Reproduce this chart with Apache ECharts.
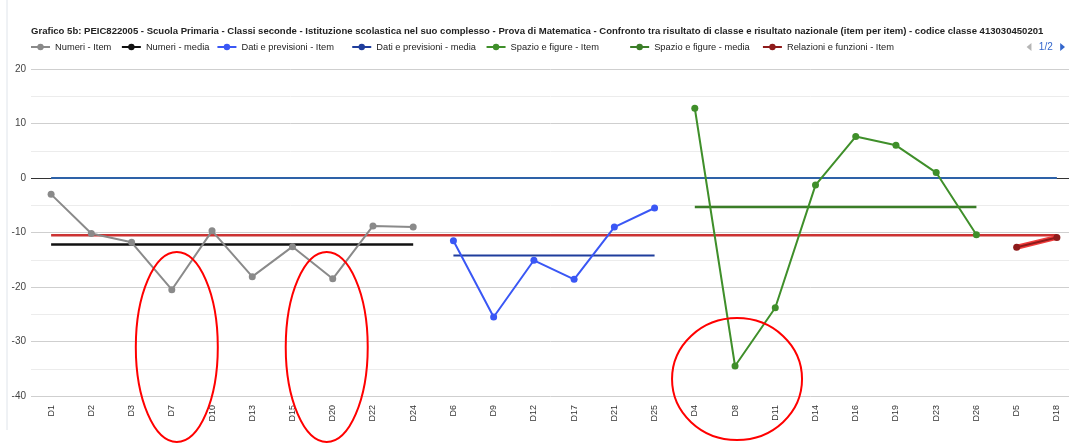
<!DOCTYPE html>
<html>
<head>
<meta charset="utf-8">
<title>Grafico 5b</title>
<script src="https://cdn.jsdelivr.net/npm/echarts@6/dist/echarts.min.js"></script>
<style>
  html, body { margin: 0; padding: 0; background: #fff; }
  #chart { width: 1069px; height: 445px; }
</style>
</head>
<body>
<div id="chart"></div>
<script>
// item categories, grouped by ambito
const numeriCats = ['D1', 'D2', 'D3', 'D7', 'D10', 'D13', 'D15', 'D20', 'D22', 'D24'];
const datiCats = ['D6', 'D9', 'D12', 'D17', 'D21', 'D25'];
const spazioCats = ['D4', 'D8', 'D11', 'D14', 'D16', 'D19', 'D23', 'D26'];
const relazioniCats = ['D5', 'D18'];
const categories = numeriCats.concat(datiCats, spazioCats, relazioniCats);

// differenza classe - Italia, item per item
const numeriItem = [-3.0, -10.2, -11.8, -20.5, -9.7, -18.1, -12.6, -18.5, -8.8, -9.0];
const datiItem = [-11.5, -25.5, -15.1, -18.6, -9.0, -5.5];
const spazioItem = [12.8, -34.5, -23.8, -1.3, 7.6, 6.0, 1.0, -10.4];
const relazioniItem = [-12.7, -10.9];

// medie
const numeriMedia = -12.2;
const datiMedia = -14.2;
const spazioMedia = -5.3;
const relazioniMedia = -11.8;
const classeMedia = -10.5;
const italia = 0;

const yTicks = [-40, -30, -20, -10, 0, 10, 20];

const FONT = 'Liberation Sans, Arial, sans-serif';

function pairs(cats, vals) {
  return cats.map((c, i) => [c, vals[i]]);
}
function flat(cats, v) {
  return [[cats[0], v], [cats[cats.length - 1], v]];
}

function itemSeries(name, cats, vals, color) {
  return {
    name: name,
    type: 'line',
    data: pairs(cats, vals),
    symbol: 'circle',
    symbolSize: 7,
    itemStyle: { color: color },
    lineStyle: { color: color, width: 2 },
    emphasis: { disabled: true },
    z: 4
  };
}
function mediaSeries(name, cats, v, color, width) {
  return {
    name: name,
    type: 'line',
    data: flat(cats, v),
    showSymbol: false,
    symbol: 'none',
    itemStyle: { color: color },
    lineStyle: { color: color, width: width || 2 },
    emphasis: { disabled: true },
    z: 3
  };
}

let myCharts = echarts.init(document.getElementById('chart'));

let zeroLine = mediaSeries('Risultato nazionale', categories, italia, '#2e62a8', 2);
let classeLine = mediaSeries('Risultato di classe - media', categories, classeMedia, '#cc3333', 2.5);
let numeriMediaS = mediaSeries('Numeri - media', numeriCats, numeriMedia, '#111111', 2.5);
numeriMediaS.z = 2;
numeriMediaS.markLine = {
  silent: true,
  z: 1,
  symbol: 'none',
  label: { show: false },
  lineStyle: { color: '#333', width: 1, type: 'solid' },
  data: [{ yAxis: italia }]
};
let relazioniHalo = {
  type: 'line',
  data: pairs(relazioniCats, relazioniItem),
  symbol: 'none',
  lineStyle: { color: '#f23b3b', width: 5 },
  emphasis: { disabled: true },
  z: 3
};

// legend entries (page 1 shows the first seven)
const legendNames = [
  'Numeri - Item', 'Numeri - media',
  'Dati e previsioni - Item', 'Dati e previsioni - media',
  'Spazio e figure - Item', 'Spazio e figure - media',
  'Relazioni e funzioni - Item', 'Relazioni e funzioni - media',
  'Risultato nazionale', 'Risultato di classe - media'
];
// trailing blanks after each label, to space the entries like the original
const legendPad = [1, 0, 4, 1, 9, 2, 6, 0, 0, 0];

let option = {
  animation: false,
  textStyle: { fontFamily: FONT },
  title: {
    text: 'Grafico 5b: PEIC822005 - Scuola Primaria - Classi seconde - Istituzione scolastica nel suo complesso - Prova di Matematica - Confronto tra risultato di classe e risultato nazionale (item per item) - codice classe 413030450201',
    left: 31,
    top: 26,
    padding: 0,
    textStyle: { fontSize: 9.55, fontWeight: 'bold', color: '#222', fontFamily: FONT }
  },
  legend: {
    type: 'scroll',
    left: 30,
    width: 1035,
    top: 42,
    padding: 0,
    itemWidth: 19,
    itemHeight: 8,
    itemGap: 7,
    textStyle: { fontSize: 9.3, color: '#222', fontFamily: FONT },
    formatter: function (name) {
      return name + '\u00a0'.repeat(legendPad[legendNames.indexOf(name)]);
    },
    pageIconSize: 8,
    pageIconColor: '#3366cc',
    pageIconInactiveColor: '#b5b5b5',
    pageButtonItemGap: 3,
    pageButtonGap: 128,
    pageTextStyle: { color: '#3366cc', fontSize: 10, fontFamily: FONT },
    data: legendNames
  },
  grid: {
    outerBoundsMode: 'none',
    left: 31,
    right: -8,
    top: 69,
    bottom: 49
  },
  xAxis: {
    type: 'category',
    data: categories,
    boundaryGap: true,
    axisLine: { show: false },
    axisTick: { show: false },
    splitLine: { show: false },
    axisLabel: {
      rotate: 90,
      interval: 0,
      margin: 9,
      fontSize: 9,
      color: '#333',
      fontFamily: FONT
    }
  },
  yAxis: {
    type: 'value',
    min: yTicks[0],
    max: yTicks[yTicks.length - 1],
    interval: 10,
    axisLine: { show: false },
    axisTick: { show: false },
    axisLabel: { margin: 5, fontSize: 10, color: '#444', fontFamily: FONT },
    splitLine: { lineStyle: { color: '#cfcfcf', width: 1 } },
    minorTick: { show: false, splitNumber: 2 },
    minorSplitLine: { show: true, lineStyle: { color: '#ececec', width: 1 } }
  },
  series: [
    numeriMediaS,
    zeroLine,
    classeLine,
    itemSeries('Numeri - Item', numeriCats, numeriItem, '#8a8a8a'),
    mediaSeries('Dati e previsioni - media', datiCats, datiMedia, '#1f3d9c', 2),
    itemSeries('Dati e previsioni - Item', datiCats, datiItem, '#3a57f5'),
    mediaSeries('Spazio e figure - media', spazioCats, spazioMedia, '#3a7d27', 2.5),
    itemSeries('Spazio e figure - Item', spazioCats, spazioItem, '#3f8f2a'),
    mediaSeries('Relazioni e funzioni - media', relazioniCats, relazioniMedia, '#e53935', 0.01),
    relazioniHalo,
    itemSeries('Relazioni e funzioni - Item', relazioniCats, relazioniItem, '#8e1b1b')
  ]
};
myCharts.setOption(option);

// hand-drawn red rings, anchored on the item they point at
function ring(cat, v, dx, rx, ry) {
  let p = myCharts.convertToPixel({ gridIndex: 0 }, [cat, v]);
  return {
    type: 'ellipse',
    z: 100,
    silent: true,
    shape: { cx: p[0] + dx, cy: p[1], rx: rx, ry: ry },
    style: { fill: 'none', stroke: '#ff0000', lineWidth: 2 }
  };
}
myCharts.setOption({
  graphic: [
    {
      type: 'line',
      silent: true,
      shape: { x1: 7, y1: 0, x2: 7, y2: 430 },
      style: { stroke: '#dfe4ea', lineWidth: 1 }
    },
    ring('D7', -31, 5, 41, 95),
    ring('D20', -31, -6, 41, 95),
    ring('D8', -36.9, 2, 65, 61)
  ]
});

window.addEventListener('resize', function () {
  myCharts.resize();
});
</script>
</body>
</html>
